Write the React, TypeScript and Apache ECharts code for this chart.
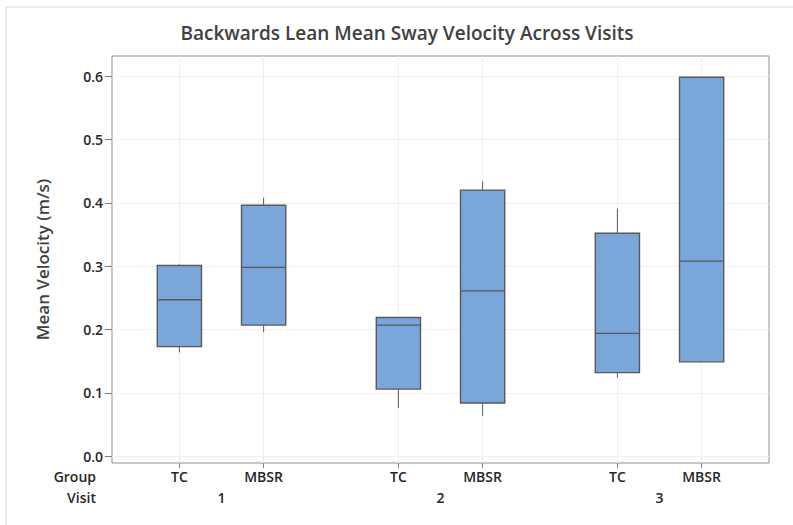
import React, { useEffect, useRef } from "react";
import * as echarts from "echarts";

const TITLE = "Backwards Lean Mean Sway Velocity Across Visits";
const Y_NAME = "Mean Velocity (m/s)";
const visits = ["1", "2", "3"];
const groups = ["TC", "MBSR"];
// order: V1 TC, V1 MBSR, V2 TC, V2 MBSR, V3 TC, V3 MBSR
const minVals = [0.164, 0.196, 0.076, 0.064, 0.124, 0.149];
const q1Vals = [0.173, 0.207, 0.106, 0.084, 0.132, 0.149];
const medianVals = [0.247, 0.298, 0.207, 0.261, 0.194, 0.308];
const q3Vals = [0.301, 0.396, 0.219, 0.42, 0.352, 0.598];
const maxVals = [0.303, 0.408, 0.219, 0.434, 0.391, 0.598];
const yTicks = [0, 0.1, 0.2, 0.3, 0.4, 0.5, 0.6];

const FONT = "'Open Sans', 'Noto Sans', sans-serif";
const VISIT_STRIDE = 2.6;
const BOX_W = 0.525;

export default function App() {
  const ref = useRef<HTMLDivElement>(null);
  useEffect(() => {
    if (!ref.current) return;
    const chart = echarts.init(ref.current, undefined, { renderer: "svg" });

    const positions: number[] = [];
    const groupLabelOf: string[] = [];
    visits.forEach((_, v) => {
      groups.forEach((g, gi) => {
        positions.push(v * VISIT_STRIDE + gi);
        groupLabelOf.push(g);
      });
    });
    const visitCenters = visits.map((_, v) => v * VISIT_STRIDE + (groups.length - 1) / 2);

    const data = positions.map((p, i) => [p, minVals[i], q1Vals[i], medianVals[i], q3Vals[i], maxVals[i]]);

    const findIdx = (arr: number[], val: number) => arr.findIndex((a) => Math.abs(a - val) < 1e-6);

    const labelStyle = {
      fontFamily: FONT,
      fontSize: 14,
      fontWeight: 600,
      color: "#262626",
    };

    const option: any = {
      animation: false,
      backgroundColor: "#ffffff",
      textStyle: { fontFamily: FONT },
      title: {
        text: TITLE,
        left: 402,
        textAlign: "center",
        top: 18,
        textStyle: { fontFamily: FONT, fontSize: 19, fontWeight: 600, color: "#404040" },
      },
      grid: {
        left: 112,
        right: 24,
        top: 56,
        bottom: 62,
        show: true,
        borderColor: "#8f8f8f",
        borderWidth: 1,
        backgroundColor: "transparent",
      },
      xAxis: [
        {
          type: "value",
          min: -0.8,
          max: 7.0,
          position: "bottom",
          axisLine: { show: false, onZero: false },
          axisTick: { show: true, length: 5, lineStyle: { color: "#7f7f7f" }, customValues: positions },
          axisLabel: {
            ...labelStyle,
            customValues: positions,
            margin: 6,
            formatter: (val: number) => {
              const i = findIdx(positions, val);
              return i >= 0 ? groupLabelOf[i] : "";
            },
          },
          splitLine: { show: true, lineStyle: { color: "#efefef", width: 1 } },
        },
        {
          type: "value",
          min: -0.8,
          max: 7.0,
          position: "bottom",
          offset: 21,
          axisLine: { show: false, onZero: false },
          axisTick: { show: false, customValues: visitCenters },
          axisLabel: {
            ...labelStyle,
            customValues: visitCenters,
            margin: 6,
            formatter: (val: number) => {
              const i = findIdx(visitCenters, val);
              return i >= 0 ? visits[i] : "";
            },
          },
          splitLine: { show: false },
        },
      ],
      yAxis: {
        type: "value",
        min: -0.0106,
        max: 0.6316,
        splitNumber: 6,
        name: Y_NAME,
        nameLocation: "middle",
        nameGap: 61,
        nameTextStyle: { fontFamily: FONT, fontSize: 17, fontWeight: 600, color: "#404040" },
        axisLine: { show: false, onZero: false },
        axisTick: { show: true, length: 7, lineStyle: { color: "#7f7f7f" }, customValues: yTicks },
        axisLabel: {
          ...labelStyle,
          customValues: yTicks,
          margin: 9,
          formatter: (v: number) => v.toFixed(1),
        },
        splitLine: { show: true, lineStyle: { color: "#efefef", width: 1 } },
      },
      graphic: [
        {
          type: "polyline",
          shape: { points: [[6, 525], [6, 7], [793, 7]] },
          style: { stroke: "#d9d9d9", lineWidth: 1, fill: "none" },
          silent: true,
        },
        {
          type: "text",
          right: 793 - 96,
          top: 469,
          style: { text: "Group", fontFamily: FONT, fontSize: 14, fontWeight: 600, fill: "#262626", textAlign: "right" },
        },
        {
          type: "text",
          right: 793 - 96,
          top: 490,
          style: { text: "Visit", fontFamily: FONT, fontSize: 14, fontWeight: 600, fill: "#262626", textAlign: "right" },
        },
      ],
      series: [
        {
          type: "custom",
          xAxisIndex: 0,
          yAxisIndex: 0,
          encode: { x: 0, y: [1, 2, 3, 4, 5] },
          data,
          renderItem: (params: any, api: any) => {
            const x = api.value(0);
            const pMin = api.coord([x, api.value(1)]);
            const pQ1 = api.coord([x, api.value(2)]);
            const pMed = api.coord([x, api.value(3)]);
            const pQ3 = api.coord([x, api.value(4)]);
            const pMax = api.coord([x, api.value(5)]);
            const w = api.size([BOX_W, 0])[0];
            const stroke = "#595959";
            return {
              type: "group",
              children: [
                {
                  type: "line",
                  shape: { x1: pMax[0], y1: pMax[1], x2: pQ3[0], y2: pQ3[1] },
                  style: { stroke, lineWidth: 1 },
                },
                {
                  type: "line",
                  shape: { x1: pQ1[0], y1: pQ1[1], x2: pMin[0], y2: pMin[1] },
                  style: { stroke, lineWidth: 1 },
                },
                {
                  type: "rect",
                  shape: { x: pQ3[0] - w / 2, y: pQ3[1], width: w, height: pQ1[1] - pQ3[1] },
                  style: { fill: "#7ba6da", stroke, lineWidth: 1.4 },
                },
                {
                  type: "line",
                  shape: { x1: pMed[0] - w / 2, y1: pMed[1], x2: pMed[0] + w / 2, y2: pMed[1] },
                  style: { stroke, lineWidth: 1.4 },
                },
              ],
            };
          },
        },
      ],
    };

    chart.setOption(option);
    return () => chart.dispose();
  }, []);

  return (
    <div
      ref={ref}
      style={{ position: "fixed", left: 0, top: 0, width: 793, height: 525, background: "#fff" }}
    />
  );
}
